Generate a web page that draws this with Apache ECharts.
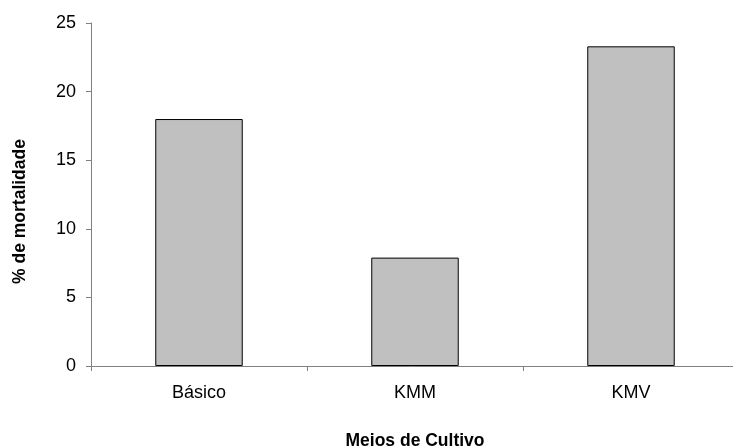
<!DOCTYPE html>
<html><head><meta charset="utf-8">
<script src="https://cdn.jsdelivr.net/npm/echarts@6/dist/echarts.min.js"></script>
<style>html,body{margin:0;padding:0;background:#fff}#c{width:733px;height:448px}</style>
</head><body><div id="c"></div>
<script>
const categories = ['Básico', 'KMM', 'KMV'];
const mortality = [18.0, 7.9, 23.3];
const yTicks = [0, 5, 10, 15, 20, 25];

const chart = echarts.init(document.getElementById('c'), null, {renderer: 'canvas'});
const font = '"Liberation Sans", Arial, sans-serif';
chart.setOption({
  animation: false,
  backgroundColor: '#fff',
  grid: {left: 91, right: -6, top: 23, bottom: 82, containLabel: false, outerBoundsMode: 'none'},
  xAxis: {
    type: 'category', data: categories, boundaryGap: true,
    name: 'Meios de Cultivo', nameLocation: 'middle', nameGap: 66,
    nameTextStyle: {fontFamily: font, fontSize: 17.5, fontWeight: 'bold', color: '#000'},
    axisLine: {lineStyle: {color: '#808080', width: 1}},
    axisTick: {show: true, length: 5, inside: false, lineStyle: {color: '#808080'}},
    axisLabel: {fontFamily: font, fontSize: 18, color: '#000', margin: 18}
  },
  yAxis: {
    type: 'value', min: yTicks[0], max: yTicks[yTicks.length - 1], interval: 5,
    name: '% de mortalidade', nameLocation: 'middle', nameGap: 62,
    nameTextStyle: {fontFamily: font, fontSize: 17.5, fontWeight: 'bold', color: '#000', padding: [0, 34, 0, 0]},
    axisLine: {show: true, lineStyle: {color: '#808080', width: 1}},
    axisTick: {show: true, length: 5, lineStyle: {color: '#808080'}},
    axisLabel: {fontFamily: font, fontSize: 18, color: '#000', margin: 15},
    splitLine: {show: false}
  },
  series: [{
    type: 'bar', data: mortality, barWidth: '40.5%',
    itemStyle: {color: '#C0C0C0', borderColor: '#000', borderWidth: 1}
  }]
});
</script></body></html>
